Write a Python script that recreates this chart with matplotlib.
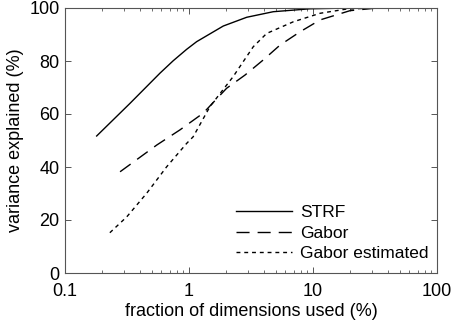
import matplotlib
matplotlib.use("Agg")
import matplotlib.pyplot as plt
import numpy as np
from matplotlib.ticker import LogLocator, NullFormatter

plt.rcParams['font.family'] = ['Liberation Sans', 'DejaVu Sans']

strf_x = [0.18, 0.334, 0.583, 0.746, 0.957, 1.153, 1.89, 2.92, 4.78, 9.46, 20, 33]
strf_y = [51.7, 64.0, 75.4, 80.1, 84.4, 87.3, 93.2, 96.5, 98.6, 99.7, 100, 100]

gabor_x = [0.278, 0.55, 0.845, 1.30, 2.01, 2.83, 3.97, 5.42, 7.85, 11.4, 19.9, 33]
gabor_y = [38.2, 48.3, 54.0, 60.3, 69.7, 74.7, 80.4, 86.0, 91.0, 95.5, 99.0, 100]

gest_x = [0.23, 0.315, 0.456, 0.661, 0.957, 1.08, 1.476, 2.27, 3.30, 4.23, 6.94, 11.4, 18.6, 33]
gest_y = [15.2, 21.2, 30.1, 40.1, 48.9, 51.4, 62.8, 74.1, 85.4, 90.4, 94.8, 98.0, 99.6, 100]

xticks = [0.1, 1, 10, 100]
xticklabels = ['0.1', '1', '10', '100']
yticks = [0, 20, 40, 60, 80, 100]

fig = plt.figure(figsize=(4.54, 3.25), dpi=100)
ax = fig.add_axes([65/454, 1-273/325, (437-65)/454, (273-8)/325])

ax.plot(strf_x, strf_y, color='black', lw=1.0, ls='-', label='STRF')
ax.plot(gabor_x, gabor_y, color='black', lw=1.0, ls=(0, (9.4, 5.8)), label='Gabor')
ax.plot(gest_x, gest_y, color='black', lw=1.0, ls=(0, (2.8, 2.8)), label='Gabor estimated')

ax.set_xscale('log')
ax.set_xlim(0.1, 100)
ax.set_ylim(0, 100)
ax.set_xticks(xticks)
ax.set_xticklabels(xticklabels)
ax.xaxis.set_minor_locator(LogLocator(base=10, subs=np.arange(2, 10)))
ax.xaxis.set_minor_formatter(NullFormatter())
ax.set_yticks(yticks)

for s in ax.spines.values():
    s.set_color('#555555')
    s.set_linewidth(0.8)
ax.tick_params(which='both', direction='in', top=True, right=True, colors='#555555', labelcolor='black', labelsize=13)
ax.tick_params(which='major', length=4, width=0.7)
ax.tick_params(which='minor', length=2.5, width=0.6)
ax.tick_params(axis='x', pad=7)
ax.tick_params(axis='y', pad=4)

ax.set_xlabel('fraction of dimensions used (%)', fontsize=13, labelpad=2)
ax.set_ylabel('variance explained (%)', fontsize=13, labelpad=4)

leg = ax.legend(loc='lower right', frameon=False, fontsize=12.5, handlelength=3.2,
                handletextpad=0.45, labelspacing=0.3, borderaxespad=0.1,
                bbox_to_anchor=(1.0, 0.012))

fig.savefig('out.png', dpi=100)
